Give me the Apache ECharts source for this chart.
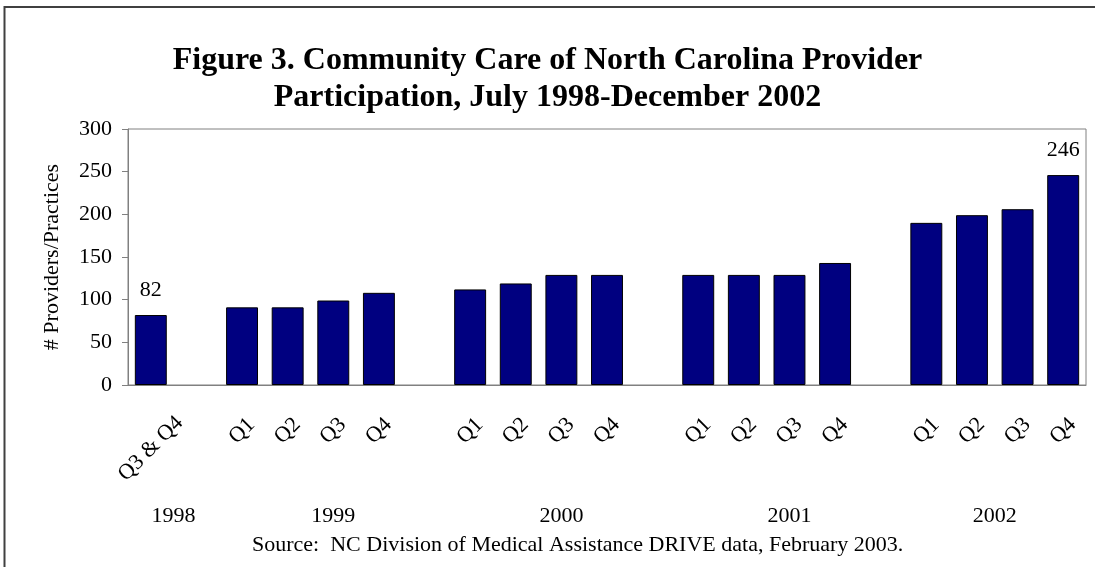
<!DOCTYPE html>
<html><head><meta charset="utf-8">
<script src="https://cdn.jsdelivr.net/npm/echarts@6/dist/echarts.min.js"></script>
<style>html,body{margin:0;padding:0;background:#fff}#c{width:1095px;height:567px}</style>
</head><body><div id="c"></div>
<script>
const titleLines = ['Figure 3. Community Care of North Carolina Provider', 'Participation, July 1998-December 2002'];
const sourceNote = 'Source:  NC Division of Medical Assistance DRIVE data, February 2003.';
const yAxisName = '# Providers/Practices';
const years = ['1998', '1999', '2000', '2001', '2002'];
const quarters = [['Q3 & Q4'], ['Q1', 'Q2', 'Q3', 'Q4'], ['Q1', 'Q2', 'Q3', 'Q4'], ['Q1', 'Q2', 'Q3', 'Q4'], ['Q1', 'Q2', 'Q3', 'Q4']];
const values = [[82], [91, 91, 99, 108], [112, 119, 129, 129], [129, 129, 129, 143], [190, 199, 206, 246]];
const labelledBars = [[0, 0], [4, 3]]; // [year index, quarter index]
const yMin = 0, yMax = 300, yStep = 50;

const FONT = "'Liberation Serif', 'Times New Roman', serif";

// build category axis with a blank slot between years
const categories = [], seriesData = [], yearSpans = [];
years.forEach((y, i) => {
  const start = categories.length;
  quarters[i].forEach((q, j) => {
    categories.push(q);
    const show = labelledBars.some(([a, b]) => a === i && b === j);
    seriesData.push({ value: values[i][j], label: { show } });
  });
  if (i < years.length - 1) { categories.push(''); seriesData.push('-'); }
  yearSpans.push([start, categories.length]);
});
const yearCenters = yearSpans.map(s => (s[0] + s[1]) / 2);

const chart = echarts.init(document.getElementById('c'), null, { renderer: 'canvas' });
chart.setOption({
  animation: false,
  backgroundColor: '#fff',
  title: [
    { text: titleLines.join('\n'), left: 'center', top: 42, padding: 0,
      textStyle: { fontFamily: FONT, fontSize: 32, fontWeight: 'bold', color: '#000', lineHeight: 37 } },
    { text: sourceNote, left: 252, top: 534, padding: 0,
      textStyle: { fontFamily: FONT, fontSize: 22, fontWeight: 'normal', color: '#000' } }
  ],
  graphic: [{
    type: 'rect', silent: true, z: 100,
    shape: { x: 4.5, y: 7, width: 1200, height: 1000 },
    style: { fill: 'none', stroke: '#404040', lineWidth: 2 }
  }],
  grid: { left: 128, right: 9, top: 129, bottom: 182, show: true, borderColor: '#808080', borderWidth: 1 },
  xAxis: [{
    type: 'category', data: categories,
    axisLine: { lineStyle: { color: '#808080', width: 1 } },
    axisTick: { show: false },
    axisLabel: {
      interval: 0, rotate: 45, align: 'center', margin: 46,
      fontFamily: FONT, fontSize: 22, color: '#000',
      formatter: v => v.length > 2 ? '{w|' + v + '}' : v,
      rich: { w: { fontFamily: FONT, fontSize: 22, color: '#000', padding: [25, 25, 0, 0] } }
    }
  }, {
    type: 'value', min: 0, max: categories.length, position: 'bottom',
    axisLine: { show: false }, axisTick: { show: false }, splitLine: { show: false },
    axisLabel: {
      customValues: yearCenters, margin: 131, verticalAlign: 'middle',
      fontFamily: FONT, fontSize: 22, color: '#000',
      formatter: v => years[yearCenters.indexOf(v)] || ''
    }
  }],
  yAxis: {
    type: 'value', min: yMin, max: yMax, interval: yStep,
    name: yAxisName, nameLocation: 'middle', nameGap: 65,
    nameTextStyle: { fontFamily: FONT, fontSize: 22, color: '#000' },
    axisLine: { show: true, lineStyle: { color: '#808080', width: 1 } },
    axisTick: { show: true, length: 6, lineStyle: { color: '#808080' } },
    splitLine: { show: false },
    axisLabel: { margin: 16, fontFamily: FONT, fontSize: 22, color: '#000' }
  },
  series: [{
    type: 'bar', xAxisIndex: 0, data: seriesData, barWidth: '70%',
    itemStyle: { color: '#000080', borderColor: '#000', borderWidth: 1 },
    label: { position: 'top', distance: 14, fontFamily: FONT, fontSize: 22, color: '#000' }
  }]
});
</script></body></html>
